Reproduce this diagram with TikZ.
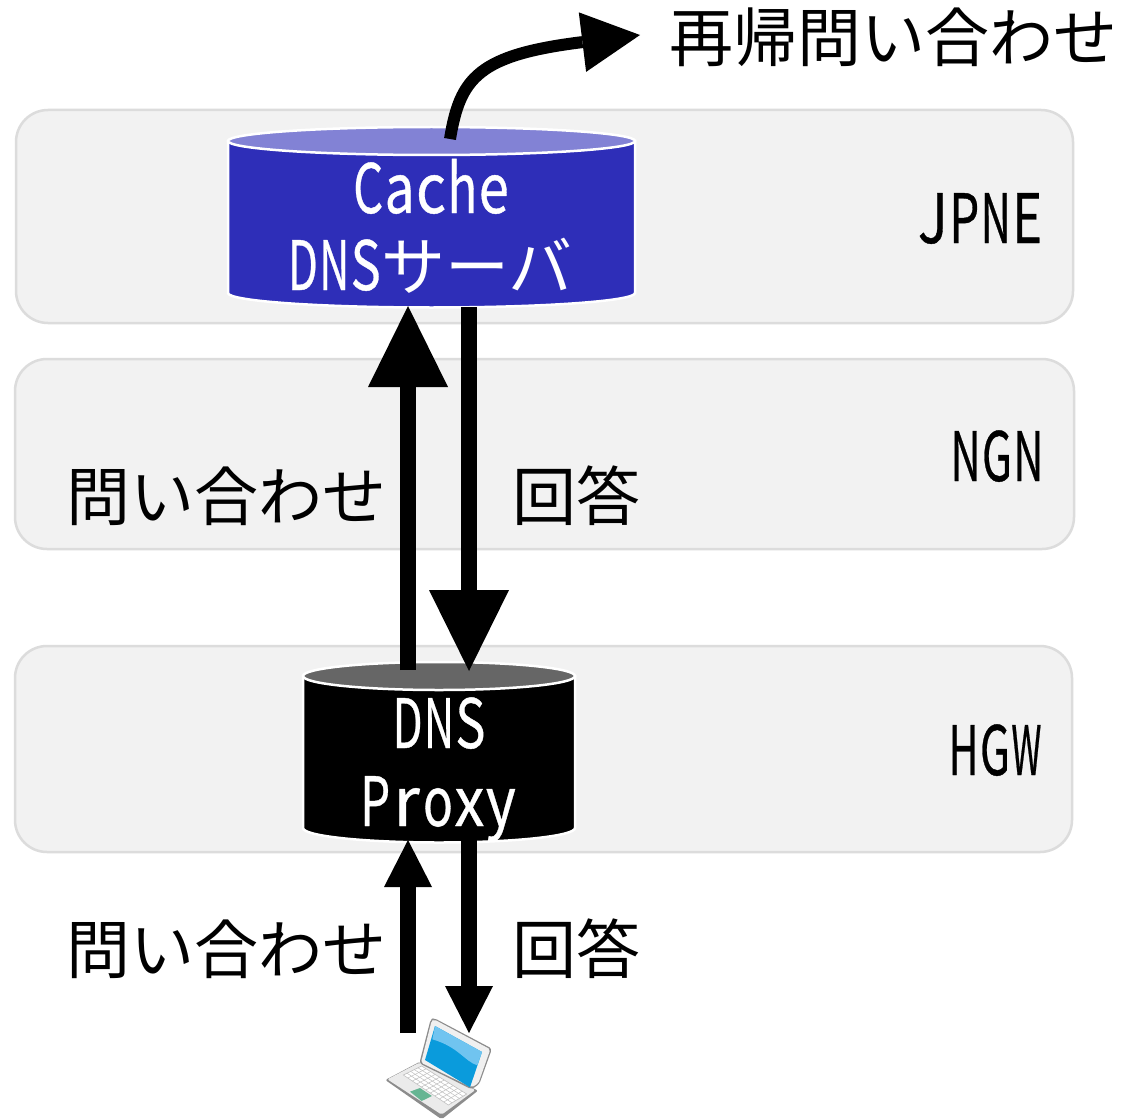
\documentclass[tikz,border=0pt]{standalone}
\usepackage{fontspec}
\usepackage{graphicx}
\usetikzlibrary{arrows.meta,calc}
\setmainfont{Noto Sans CJK JP}
\newfontfamily\latf[FakeBold=0.6]{Noto Sans CJK JP}
\definecolor{panelfill}{HTML}{F2F2F2}
\definecolor{panelline}{HTML}{DCDCDC}
\definecolor{cacheblue}{HTML}{2E2EB8}
\definecolor{cachetop}{HTML}{8282D5}
\definecolor{proxytop}{HTML}{666666}
\definecolor{lapscreen}{HTML}{0A9BDC}
\definecolor{lapglare}{HTML}{70C4F0}
\definecolor{lapgreen}{HTML}{66B593}
\newsavebox\monobox
\newcommand{\monochar}[1]{\sbox\monobox{#1}\makebox[31.4pt]{\ifdim\wd\monobox>30pt \resizebox{30pt}{\height}{\usebox\monobox}\else\usebox\monobox\fi}}
\newcommand{\monotext}[1]{\monoloop#1\relax}
\def\monoloop#1{\ifx#1\relax\else\monochar{#1}\expandafter\monoloop\fi}
\tikzset{
  panel/.style={draw=panelline,fill=panelfill,line width=2.5pt,rounded corners=32pt},
  jp/.style={inner sep=0pt,font=\fontsize{64}{64}\selectfont,anchor=center},
  la/.style={inner sep=0pt,font=\fontsize{68}{68}\selectfont\latf,anchor=base},
  cyl/.style={draw=white,line width=2.5pt},
  bigup/.style={line width=16pt,-{Triangle[length=81pt,width=80pt,line width=0pt]}},
  smallar/.style={line width=16pt,-{Triangle[length=47pt,width=48pt,line width=0pt]}},
  curvear/.style={line width=12pt,-{Triangle[length=58pt,width=60pt,line width=0pt]}}
}
\newcommand{\cylinder}[6]{%
  \path[cyl,fill=#5] (#1,#3) -- (#1,#4) arc[start angle=180,end angle=0,x radius={(#2-#1)/2},y radius=14.5] -- (#2,#3) -- cycle;
  \path[cyl,fill=#6] ({(#1+#2)/2},#3) ellipse[x radius={(#2-#1)/2},y radius=14];
}
\begin{document}
\begin{tikzpicture}[x=1pt,y=-1pt]
\useasboundingbox (0,0) rectangle (1126,1118);
\fill[white] (0,0) rectangle (1126,1118);
\path[panel] (16,110) rectangle (1073,323);
\path[panel] (15,359) rectangle (1074,549);
\path[panel] (15,646) rectangle (1072,852);
\cylinder{228}{635}{141}{293}{cacheblue}{cachetop}
\cylinder{303}{575}{676}{828}{black}{proxytop}
\node[la,text=white] (cachel) at (431,213) {\monotext{Cache}};
\node[inner sep=0pt,text=white,anchor=base west] (dnss) at (287,290) {\fontsize{68}{68}\selectfont\latf\monotext{DNS}\fontsize{64}{64}\selectfont\rmfamily サーバ};
\node[la,text=white] (dnsl) at (439,748) {\monotext{DNS}};
\node[la,text=white] (proxyl) at (438,826) {\monotext{Proxy}};
\node[la] (jpne) at (980,243) {\monotext{JPNE}};
\node[la] (ngn) at (997,481) {\monotext{NGN}};
\node[la] (hgw) at (995,775) {\monotext{HGW}};
\node[jp] (rec) at (893,37) {再帰問い合わせ};
\node[jp] (q1) at (226,496) {問い合わせ};
\node[jp] (a1) at (576,496) {回答};
\node[jp] (q2) at (226,949) {問い合わせ};
\node[jp] (a2) at (576,949) {回答};
\coordinate (cacheBottomL) at (408,306);
\coordinate (cacheBottomR) at (469,307);
\coordinate (proxyTopL) at (408,670);
\coordinate (proxyTopR) at (469,671);
\coordinate (proxyBottomL) at (408,840);
\coordinate (proxyBottomR) at (469,840);
\coordinate (lapL) at (408,1033);
\coordinate (lapR) at (469,1033);
\coordinate (cacheTop) at (450,139);
\coordinate (recTip) at (640,35);
\draw[bigup] (proxyTopL) -- (cacheBottomL);
\draw[bigup] (cacheBottomR) -- (proxyTopR);
\draw[smallar] (lapL) -- (proxyBottomL);
\draw[smallar] (proxyBottomR) -- (lapR);
\draw[curvear] (cacheTop) .. controls (460,78) and (478,55) .. (recTip);
\begin{scope}[shift={(370,1000)},x=0.3333pt,y=-0.3333pt]
  % base
  \path[fill=black!45,rounded corners=2pt] (46,240) -- (150,185) -- (324,272) -- (215,358) -- cycle;
  \path[fill=black!8,rounded corners=2pt] (52,238) -- (150,187) -- (316,270) -- (215,344) -- cycle;
  % keyboard
  \path[fill=white,draw=black!25,line width=0.6pt] (100,225) -- (155,198) -- (290,282) -- (235,315) -- cycle;
  \foreach \t in {0.2,0.4,0.6,0.8}{
    \draw[black!25,line width=0.5pt] ($(100,225)!\t!(155,198)$) -- ($(235,315)!\t!(290,282)$);
  }
  \foreach \t in {0.1,0.2,...,0.9}{
    \draw[black!25,line width=0.5pt] ($(100,225)!\t!(235,315)$) -- ($(155,198)!\t!(290,282)$);
  }
  \path[fill=lapgreen] (120,275) -- (150,264) -- (186,288) -- (155,303) -- cycle;
  % lid
  \path[fill=black!45,rounded corners=3pt] (182,58) -- (192,54) -- (366,146) -- (328,252) -- (305,268) -- (148,190) -- cycle;
  \path[fill=black!6,rounded corners=2pt] (185,62) -- (192,58) -- (361,148) -- (325,250) -- (305,262) -- (153,188) -- cycle;
  \path[fill=lapscreen] (195,78) -- (336,156) -- (300,262) -- (165,180) -- cycle;
  \path[fill=lapglare] (195,78) -- (336,156) -- (322,196) .. controls (285,185) and (265,140) .. (187,118) -- cycle;
\end{scope}
\end{tikzpicture}
\end{document}
